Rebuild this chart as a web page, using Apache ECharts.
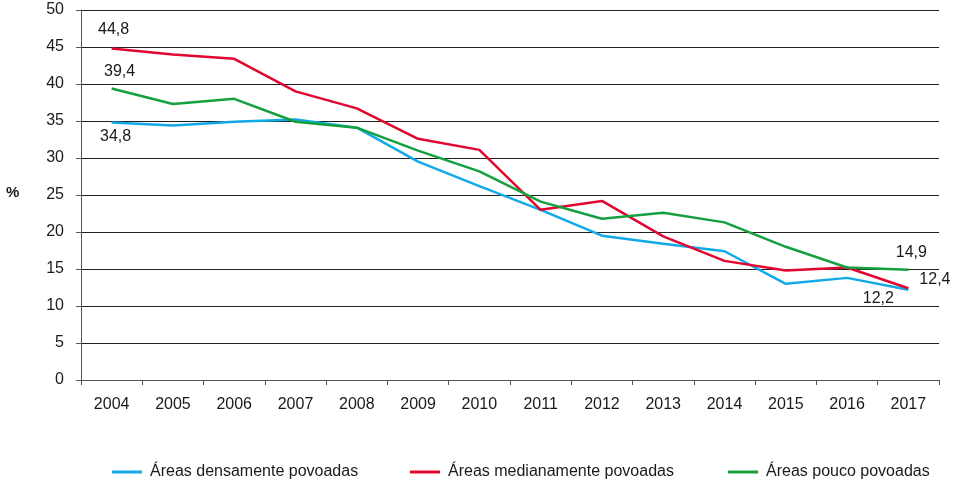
<!DOCTYPE html>
<html>
<head>
<meta charset="utf-8">
<script src="https://cdn.jsdelivr.net/npm/echarts@6/dist/echarts.min.js"></script>
<style>
  html, body { margin: 0; padding: 0; background: #fff; }
  #chart { width: 957px; height: 480px; }
</style>
</head>
<body>
<div id="chart"></div>
<script>
// dados
const anos = ["2004", "2005", "2006", "2007", "2008", "2009", "2010", "2011", "2012", "2013", "2014", "2015", "2016", "2017"];
const densas = [34.8, 34.4, 34.9, 35.2, 34.1, 29.5, 26.2, 23.0, 19.5, 18.4, 17.4, 13.0, 13.8, 12.2];
const medianas = [44.8, 44.0, 43.4, 39.0, 36.7, 32.6, 31.1, 23.0, 24.2, 19.4, 16.1, 14.8, 15.2, 12.4];
const poucas = [39.4, 37.3, 38.0, 34.9, 34.1, 31.0, 28.2, 24.1, 21.8, 22.6, 21.3, 18.0, 15.2, 14.9];
const nomes = ["Áreas densamente povoadas", "Áreas medianamente povoadas", "Áreas pouco povoadas"];
const cores = ["#12a9e8", "#e0062f", "#14a03e"];

const fonte = "Liberation Sans";
const txt = { color: "#1a1a1a", fontFamily: fonte, fontSize: 16 };

// rótulos só no primeiro e no último ano
function pontos(valores, rotIni, rotFim) {
  return valores.map((v, i) => {
    let lab = null;
    if (i === 0) lab = rotIni;
    if (i === valores.length - 1) lab = rotFim;
    if (!lab) return v;
    return {
      value: v,
      label: Object.assign({
        show: true,
        formatter: (p) => String(p.value).replace(".", ","),
        color: "#1a1a1a", fontFamily: fonte, fontSize: 16
      }, lab)
    };
  });
}

const serieDados = [
  pontos(densas, { position: "bottom", distance: 6, offset: [4, 0] }, { position: "bottom", distance: 1, offset: [-30, 0] }),
  pontos(medianas, { position: "top", distance: 11, offset: [2, 0] }, { position: "right", distance: 10, offset: [1, -9] }),
  pontos(poucas, { position: "top", distance: 9, offset: [8, 0] }, { position: "top", distance: 9, offset: [3, 0] })
];

const legendas = [107, 405, 723].map((x, i) => ({
  data: [nomes[i]],
  left: x,
  top: 459,
  icon: "rect",
  itemWidth: 30,
  itemHeight: 3,
  itemGap: 0,
  textStyle: { color: "#1a1a1a", fontFamily: fonte, fontSize: 16, padding: [0, 0, 0, 3] }
}));

const chart = echarts.init(document.getElementById("chart"), null, { renderer: "canvas" });
chart.setOption({
  animation: false,
  backgroundColor: "#fff",
  grid: { left: 81, right: 18, top: 10, bottom: 100, containLabel: false },
  legend: legendas,
  graphic: [{
    type: "text", left: 6, top: 185,
    style: { text: "%", fontFamily: fonte, fontSize: 15, fontWeight: "bold", fill: "#1a1a1a" }
  }],
  xAxis: {
    type: "category",
    data: anos,
    boundaryGap: true,
    axisLine: { lineStyle: { color: "#555", width: 1 } },
    axisTick: { show: true, length: 5, inside: false, lineStyle: { color: "#555" } },
    axisLabel: Object.assign({ margin: 17 }, txt),
    splitLine: { show: false }
  },
  yAxis: {
    type: "value",
    min: 0, max: 50, interval: 5,
    axisLine: { show: true, lineStyle: { color: "#555", width: 1 } },
    axisTick: { show: true, length: 5, lineStyle: { color: "#555" } },
    axisLabel: Object.assign({ margin: 17 }, txt),
    splitLine: { show: true, lineStyle: { color: "#222", width: 1 } }
  },
  series: nomes.map((n, i) => ({
    name: n,
    type: "line",
    data: serieDados[i],
    symbol: "circle",
    symbolSize: 0,
    showSymbol: true,
    smooth: false,
    lineStyle: { color: cores[i], width: 2.5 },
    itemStyle: { color: cores[i] },
    z: 3 + i
  }))
});
</script>
</body>
</html>
